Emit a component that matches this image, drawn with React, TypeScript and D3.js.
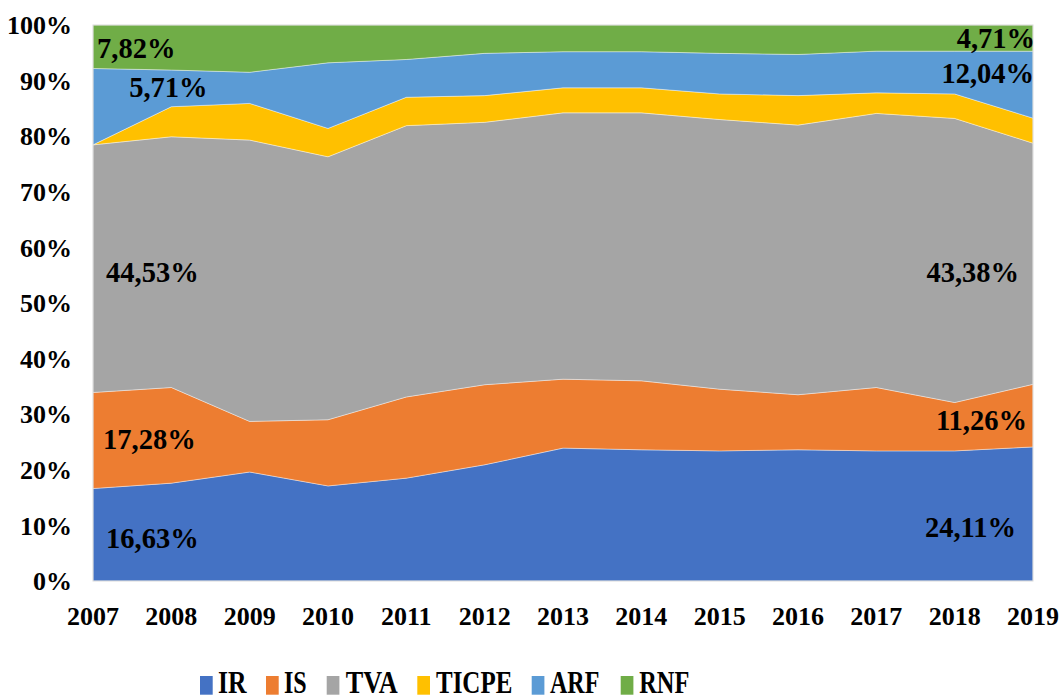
import React from "react";
import * as d3 from "d3";

const years = [2007, 2008, 2009, 2010, 2011, 2012, 2013, 2014, 2015, 2016, 2017, 2018, 2019];
const seriesNames = ["IR", "IS", "TVA", "TICPE", "ARF", "RNF"];
const IR = [16.63, 17.6, 19.6, 17.1, 18.5, 20.9, 23.9, 23.6, 23.4, 23.6, 23.4, 23.4, 24.11];
const IS = [17.28, 17.2, 9.1, 11.9, 14.6, 14.4, 12.4, 12.4, 11.1, 9.9, 11.4, 8.7, 11.26];
const TVA = [44.53, 45.1, 50.6, 47.3, 48.8, 47.2, 47.9, 48.2, 48.5, 48.5, 49.3, 51.1, 43.38];
const TICPE = [0, 5.4, 6.6, 5.1, 5.1, 4.8, 4.5, 4.5, 4.6, 5.3, 3.7, 4.4, 4.5];
const ARF = [13.74, 6.6, 5.6, 11.8, 6.8, 7.6, 6.5, 6.5, 7.3, 7.4, 7.5, 7.7, 12.04];
const RNF = [7.82, 8.1, 8.5, 6.8, 6.2, 5.1, 4.8, 4.8, 5.1, 5.3, 4.7, 4.7, 4.71];
const yTicks = [0, 10, 20, 30, 40, 50, 60, 70, 80, 90, 100];

// data labels: text, year, y position (in %), anchor
const labelText = ["7,82%", "5,71%", "44,53%", "17,28%", "16,63%", "4,71%", "12,04%", "43,38%", "11,26%", "24,11%"];
const labelYear = [2007, 2008, 2007, 2007, 2007, 2019, 2019, 2019, 2019, 2019];
const labelPos = [94.1, 87.1, 53.8, 23.7, 5.9, 95.9, 89.6, 53.8, 27.2, 7.9];

const colors = ["#4472C4", "#ED7D31", "#A5A5A5", "#FFC000", "#5B9BD5", "#70AD47"];

const labelDx = [4, -3, 13, 10, 13, 2, 1, -14, -6, -17];
const labelAnchor = ["start", "middle", "start", "start", "start", "end", "end", "end", "end", "end"];

const legendLayout = [
  { sq: 200, tx: 218, w: 28.5 },
  { sq: 266, tx: 284, w: 22.7 },
  { sq: 326.7, tx: 345.7, w: 52 },
  { sq: 417.3, tx: 436, w: 76.3 },
  { sq: 531.7, tx: 550, w: 49.3 },
  { sq: 620.7, tx: 639.3, w: 50 },
];

export default function App() {
  const W = 1063, H = 700;
  const left = 93, right = 1033, top = 25, bottom = 581;
  const values = [IR, IS, TVA, TICPE, ARF, RNF];
  const table = years.map((y, i) => {
    const row: any = { year: y };
    seriesNames.forEach((n, k) => (row[n] = values[k][i]));
    return row;
  });
  const stack = d3.stack<any>().keys(seriesNames).offset(d3.stackOffsetExpand);
  const stacked = stack(table);
  const x = d3.scaleLinear().domain([2007, 2019]).range([left, right]);
  const y = d3.scaleLinear().domain([0, 100]).range([bottom, top]);
  const area = d3
    .area<any>()
    .x((d) => x(d.data.year))
    .y0((d) => y(d[0] * 100))
    .y1((d) => y(d[1] * 100));
  const font = "'Liberation Serif', 'Times New Roman', serif";

  return (
    <div style={{ position: "absolute", left: 0, top: 0 }}>
      <svg width={W} height={H} style={{ display: "block", background: "#fff" }}>
        {stacked.map((s, i) => (
          <path key={s.key} d={area(s) || ""} fill={colors[i]} stroke="#ffffff" strokeOpacity={0.5} strokeWidth={0.8} />
        ))}
        <rect x={left} y={top} width={right - left} height={bottom - top} fill="none" stroke="#d9d9d9" strokeWidth={1} />
        {yTicks.map((t) => (
          <text key={t} x={72} y={y(t)} dy="0.35em" textAnchor="end" fontFamily={font} fontWeight="bold" fontSize={26} fill="#000">
            {t}%
          </text>
        ))}
        {years.map((yr) => (
          <text key={yr} x={x(yr)} y={625} textAnchor="middle" fontFamily={font} fontWeight="bold" fontSize={26} fill="#000">
            {yr}
          </text>
        ))}
        {labelText.map((t, i) => (
          <text
            key={i}
            x={x(labelYear[i]) + labelDx[i]}
            y={y(labelPos[i])}
            textAnchor={labelAnchor[i] as any}
            fontFamily={font}
            fontWeight="bold"
            fontSize={28.5}
            fill="#000"
          >
            {t}
          </text>
        ))}
        {seriesNames.map((n, i) => (
          <g key={n}>
            <rect x={legendLayout[i].sq} y={676} width={12.7} height={18.7} fill={colors[i]} />
            <text
              x={legendLayout[i].tx}
              y={693}
              fontFamily={font}
              fontWeight="bold"
              fontSize={32}
              textLength={legendLayout[i].w}
              lengthAdjust="spacingAndGlyphs"
              fill="#000"
            >
              {n}
            </text>
          </g>
        ))}
      </svg>
    </div>
  );
}
